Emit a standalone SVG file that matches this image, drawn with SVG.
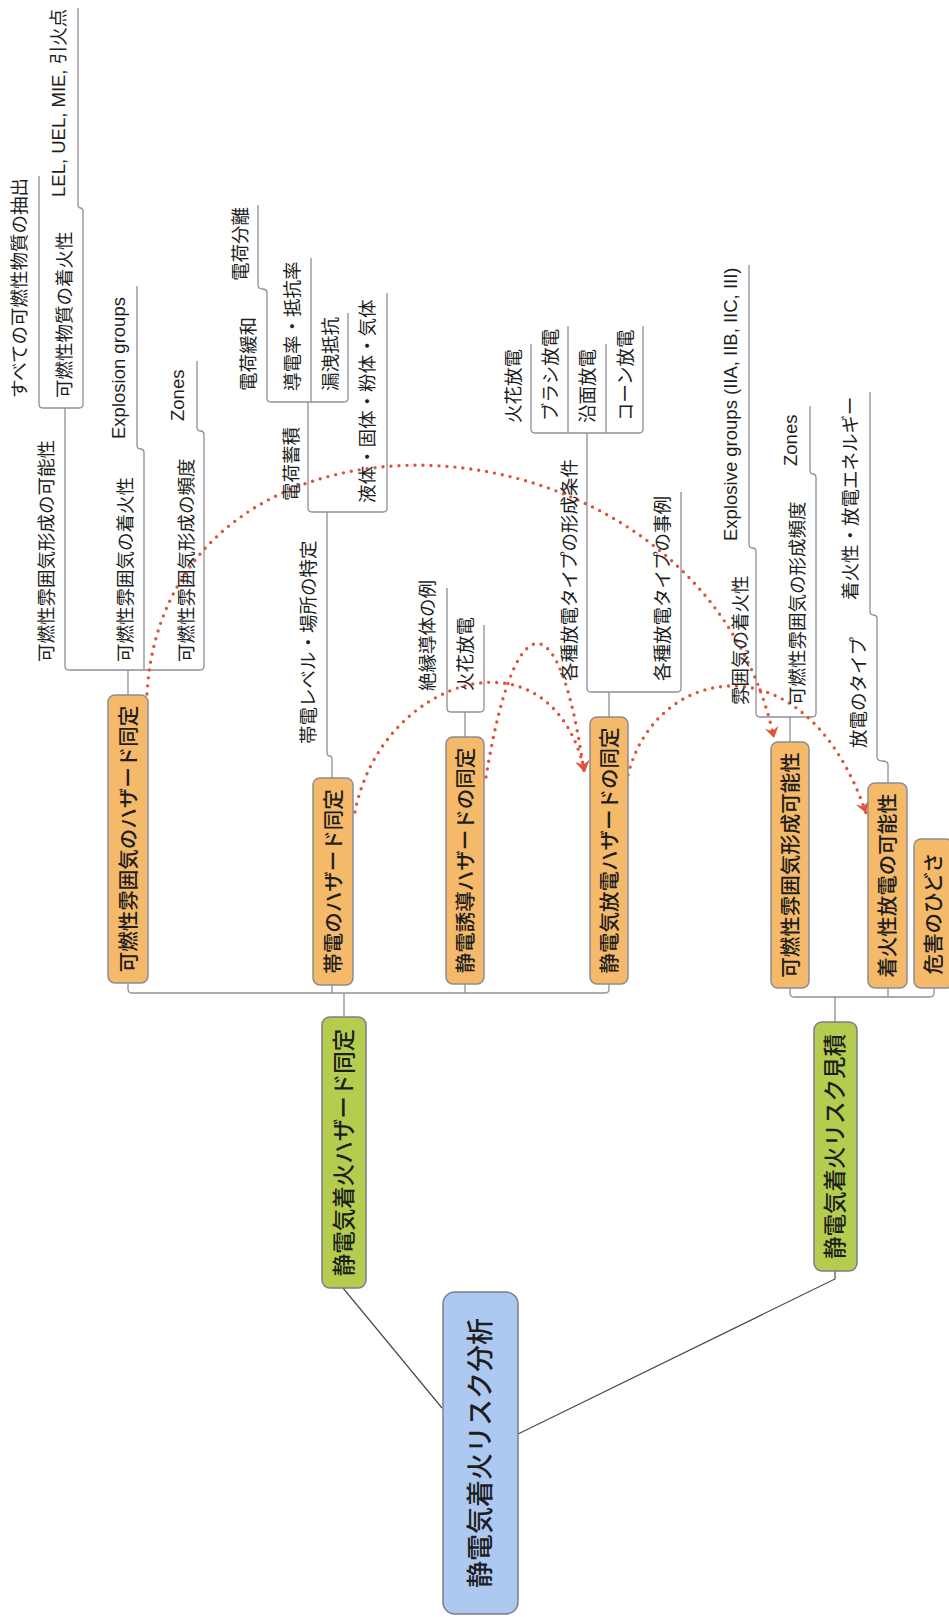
<svg xmlns="http://www.w3.org/2000/svg" width="949" height="1617" viewBox="0 0 949 1617">
<style>
text{font-family:"Liberation Sans","Noto Sans CJK JP",sans-serif;fill:#1e1e1e}
.leaf{font-size:18.5px}
.ln{fill:none;stroke:#8e8e96;stroke-width:1.3}
.rl{fill:none;stroke:#4a4a4a;stroke-width:1.2}
.rel{fill:none;stroke:#e0533a;stroke-width:3.4;stroke-linecap:round;stroke-dasharray:0 8}
.o rect{fill:#f5b96a;stroke:#8c8c95;stroke-width:1.5}
.o text{font-size:20.5px;font-weight:500}
.g rect{fill:#b4cd4f;stroke:#7d7d86;stroke-width:1.5}
.g text{font-size:22.5px;font-weight:500}
.r rect{fill:#adc9f1;stroke:#7d7d86;stroke-width:1.5}
.r text{font-size:27px;font-weight:500}
</style>
<defs>
<marker id="ah" viewBox="-12 -8 14 16" markerWidth="14" markerHeight="16" refX="0" refY="0" orient="auto" markerUnits="userSpaceOnUse">
<path d="M0,0 L-11,-7 L-7,0 L-11,7 Z" fill="#e0533a"/>
</marker>
</defs>
<rect width="949" height="1617" fill="#ffffff"/>

<g id="connectors">
<path class="rl" d="M343,1288 L442,1408"/>
<path class="rl" d="M835,1271 V1279 L518,1434"/>
<path class="ln" d="M128,983 V989 Q128,993 132,993 H605 Q609,993 609,989 V984"/>
<path class="ln" d="M332,985 V993 M465,984 V993 M344,993 V1017"/>
<path class="ln" d="M790,988 V993 Q790,997 794,997 H930 Q934,997 934,993 V988"/>
<path class="ln" d="M888,988 V997 M835,997 V1022"/>
<path class="ln" d="M65,408 V666 Q65,670 69,670 H200 Q204,670 204,666 V435 Q204,431 200.5,431 Q197,431 197,427 V361"/>
<path class="ln" d="M128,670 V695"/>
<path class="ln" d="M144,670 V453 Q144,449 140.5,449 Q137,449 137,445 V286"/>
<path class="ln" d="M39,176 V404 Q39,408 43,408 H79 Q83,408 83,404 V212 Q83,208 80.5,208 Q78,208 78,204 V8"/>
<path class="ln" d="M332,778 V760 Q332,756 329.5,756 Q327,756 327,752 V512"/>
<path class="ln" d="M308,402 V508 Q308,512 312,512 H383 Q387,512 387,508 V293"/>
<path class="ln" d="M258,205 V285 Q258,289 262.5,289 Q267,289 267,293 V398 Q267,402 271,402 H344 Q348,402 348,398 V313"/>
<path class="ln" d="M311,402 V258"/>
<path class="ln" d="M447,588 V708 Q447,712 451,712 H480 Q484,712 484,708 V625"/>
<path class="ln" d="M465,712 V737"/>
<path class="ln" d="M587,433 V688 Q587,692 591,692 H677 Q681,692 681,688 V492"/>
<path class="ln" d="M609,692 V717"/>
<path class="ln" d="M531,344 V429 Q531,433 535,433 H639 Q643,433 643,429 V326"/>
<path class="ln" d="M568,433 V326 M606,433 V344"/>
<path class="ln" d="M749,265 V544 Q749,548 752.5,548 Q756,548 756,552 V713 Q756,717 760,717 H812 Q816,717 816,713 V478 Q816,474 813,474 Q810,474 810,470 V406"/>
<path class="ln" d="M790,717 V742"/>
<path class="ln" d="M888,783 V765 Q888,761 882.5,761 Q877,761 877,757 V619 Q877,615 873.5,615 Q870,615 870,611 V392"/>
<path class="rel" d="M147,694 C165,370 700,395 774,738" marker-end="url(#ah)"/>
<path class="rel" d="M355,812 C380,680 550,620 585,772" marker-end="url(#ah)"/>
<path class="rel" d="M486,777 C515,600 560,600 584,772" marker-end="url(#ah)"/>
<path class="rel" d="M628,775 C655,665 805,635 866,813" marker-end="url(#ah)"/>
</g>

<g id="root" class="r"><rect x="443" y="1292" width="75" height="322" rx="12"/><text transform="translate(480.5,1453) rotate(-90)" text-anchor="middle" dominant-baseline="central">静電気着火リスク分析</text></g>

<g id="hazard-id" class="g"><rect x="322" y="1017" width="44" height="271" rx="8"/><text transform="translate(344,1152.5) rotate(-90)" text-anchor="middle" dominant-baseline="central">静電気着火ハザード同定</text></g>
<g id="risk-est" class="g"><rect x="814" y="1022" width="43" height="249" rx="8"/><text transform="translate(835.5,1146.5) rotate(-90)" text-anchor="middle" dominant-baseline="central">静電気着火リスク見積</text></g>

<g id="o1" class="o"><rect x="108" y="695" width="40" height="288" rx="7"/><text transform="translate(128,839) rotate(-90)" text-anchor="middle" dominant-baseline="central">可燃性雰囲気のハザード同定</text></g>
<g id="o2" class="o"><rect x="313" y="778" width="40" height="207" rx="7"/><text transform="translate(333,881.5) rotate(-90)" text-anchor="middle" dominant-baseline="central">帯電のハザード同定</text></g>
<g id="o3" class="o"><rect x="446" y="737" width="38" height="247" rx="7"/><text transform="translate(465,860.5) rotate(-90)" text-anchor="middle" dominant-baseline="central">静電誘導ハザードの同定</text></g>
<g id="o4" class="o"><rect x="590" y="717" width="38" height="267" rx="7"/><text transform="translate(609,850.5) rotate(-90)" text-anchor="middle" dominant-baseline="central">静電気放電ハザードの同定</text></g>
<g id="o5" class="o"><rect x="771" y="742" width="38" height="246" rx="7"/><text transform="translate(790,865) rotate(-90)" text-anchor="middle" dominant-baseline="central">可燃性雰囲気形成可能性</text></g>
<g id="o6" class="o"><rect x="868" y="783" width="39" height="205" rx="7"/><text transform="translate(887.5,885.5) rotate(-90)" text-anchor="middle" dominant-baseline="central">着火性放電の可能性</text></g>
<g id="o7" class="o"><rect x="914" y="839" width="39" height="149" rx="7"/><text transform="translate(933.5,913.5) rotate(-90)" text-anchor="middle" dominant-baseline="central">危害のひどさ</text></g>

<g id="leaves" class="leaf">
<g id="l1"><text transform="translate(19,398) rotate(-90)" dominant-baseline="central">すべての可燃性物質の抽出</text></g>
<g id="l2"><text transform="translate(64,398) rotate(-90)" dominant-baseline="central">可燃性物質の着火性</text></g>
<g id="l3"><text transform="translate(58,197) rotate(-90)" dominant-baseline="central">LEL, UEL, MIE, 引火点</text></g>
<g id="l4"><text transform="translate(46,662) rotate(-90)" dominant-baseline="central">可燃性雰囲気形成の可能性</text></g>
<g id="l5"><text transform="translate(125,662) rotate(-90)" dominant-baseline="central">可燃性雰囲気の着火性</text></g>
<g id="l6"><text transform="translate(118,439) rotate(-90)" dominant-baseline="central">Explosion groups</text></g>
<g id="l7"><text transform="translate(186,662) rotate(-90)" dominant-baseline="central">可燃性雰囲気形成の頻度</text></g>
<g id="l8"><text transform="translate(177,421) rotate(-90)" dominant-baseline="central">Zones</text></g>
<g id="l9"><text transform="translate(308,744) rotate(-90)" dominant-baseline="central">帯電レベル・場所の特定</text></g>
<g id="l10"><text transform="translate(291,501) rotate(-90)" dominant-baseline="central">電荷蓄積</text></g>
<g id="l11"><text transform="translate(248,391) rotate(-90)" dominant-baseline="central">電荷緩和</text></g>
<g id="l12"><text transform="translate(240,281) rotate(-90)" dominant-baseline="central">電荷分離</text></g>
<g id="l13"><text transform="translate(292,391) rotate(-90)" dominant-baseline="central">導電率・抵抗率</text></g>
<g id="l14"><text transform="translate(330,391) rotate(-90)" dominant-baseline="central">漏洩抵抗</text></g>
<g id="l15"><text transform="translate(367,503) rotate(-90)" dominant-baseline="central">液体・固体・粉体・気体</text></g>
<g id="l16"><text transform="translate(427,691) rotate(-90)" dominant-baseline="central">絶縁導体の例</text></g>
<g id="l17"><text transform="translate(465,691) rotate(-90)" dominant-baseline="central">火花放電</text></g>
<g id="l18"><text transform="translate(569,681) rotate(-90)" dominant-baseline="central">各種放電タイプの形成条件</text></g>
<g id="l19"><text transform="translate(513,423) rotate(-90)" dominant-baseline="central">火花放電</text></g>
<g id="l20"><text transform="translate(550,421) rotate(-90)" dominant-baseline="central">ブラシ放電</text></g>
<g id="l21"><text transform="translate(587,423) rotate(-90)" dominant-baseline="central">沿面放電</text></g>
<g id="l22"><text transform="translate(625,421) rotate(-90)" dominant-baseline="central">コーン放電</text></g>
<g id="l23"><text transform="translate(662,681) rotate(-90)" dominant-baseline="central">各種放電タイプの事例</text></g>
<g id="l24"><text transform="translate(740,705) rotate(-90)" dominant-baseline="central">雰囲気の着火性</text></g>
<g id="l25"><text transform="translate(730,541) rotate(-90)" dominant-baseline="central">Explosive groups (IIA, IIB, IIC, III)</text></g>
<g id="l26"><text transform="translate(797,705) rotate(-90)" dominant-baseline="central">可燃性雰囲気の形成頻度</text></g>
<g id="l27"><text transform="translate(790,466) rotate(-90)" dominant-baseline="central">Zones</text></g>
<g id="l28"><text transform="translate(858,748) rotate(-90)" dominant-baseline="central">放電のタイプ</text></g>
<g id="l29"><text transform="translate(850,600) rotate(-90)" dominant-baseline="central">着火性・放電エネルギー</text></g>
</g>
</svg>
